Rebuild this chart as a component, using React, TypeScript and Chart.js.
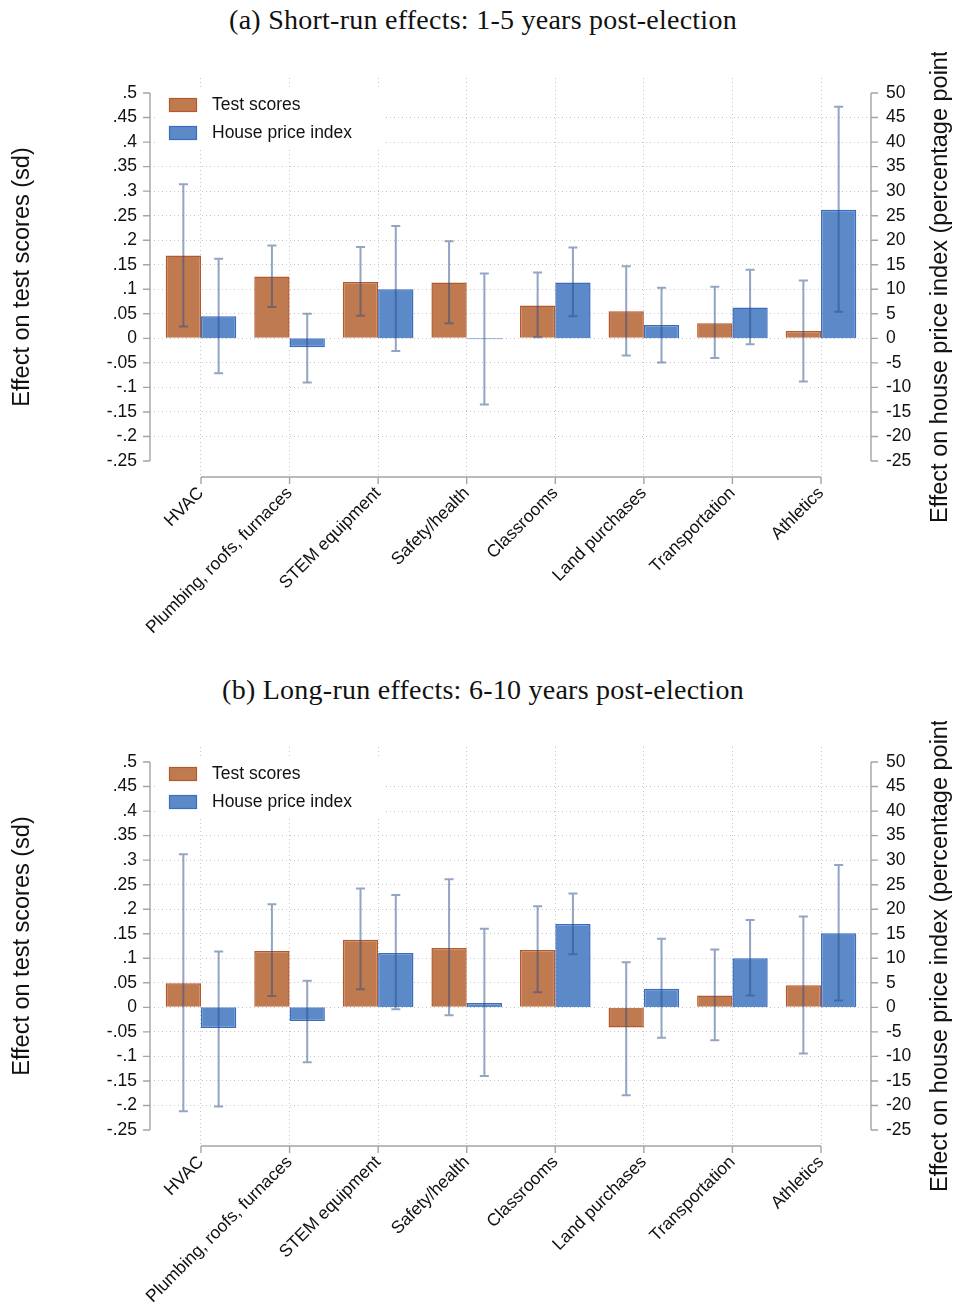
import React, { useEffect, useRef } from 'react';
import { Chart, registerables } from 'chart.js';

Chart.register(...registerables);

// Project categories along the x axis
const CATEGORIES = [
  'HVAC',
  'Plumbing, roofs, furnaces',
  'STEM equipment',
  'Safety/health',
  'Classrooms',
  'Land purchases',
  'Transportation',
  'Athletics',
];

// Panel (a): short-run effects, 1-5 years post-election
const SR_TEST = [0.169, 0.126, 0.115, 0.114, 0.067, 0.055, 0.031, 0.015];
const SR_TEST_LO = [0.024, 0.064, 0.046, 0.031, 0.002, -0.035, -0.04, -0.088];
const SR_TEST_HI = [0.314, 0.189, 0.186, 0.198, 0.134, 0.147, 0.105, 0.118];
const SR_HPI = [4.5, -1.8, 10.0, -0.2, 11.4, 2.7, 6.3, 26.2];
const SR_HPI_LO = [-7.1, -9.0, -2.6, -13.5, 4.5, -4.9, -1.2, 5.4];
const SR_HPI_HI = [16.2, 5.0, 22.9, 13.2, 18.5, 10.3, 14.0, 47.2];

// Panel (b): long-run effects, 6-10 years post-election
const LR_TEST = [0.049, 0.115, 0.138, 0.121, 0.117, -0.041, 0.024, 0.045];
const LR_TEST_LO = [-0.212, 0.023, 0.037, -0.016, 0.031, -0.179, -0.067, -0.094];
const LR_TEST_HI = [0.312, 0.21, 0.242, 0.261, 0.206, 0.092, 0.118, 0.185];
const LR_HPI = [-4.2, -2.8, 11.1, 0.9, 17.0, 3.8, 10.0, 15.1];
const LR_HPI_LO = [-20.2, -11.2, -0.4, -14.0, 10.8, -6.2, 2.4, 1.4];
const LR_HPI_HI = [11.4, 5.4, 22.9, 16.0, 23.2, 14.0, 17.8, 29.0];

// Axis ticks: test scores (sd) on the left, house price index (pp) on the right
const SD_TICKS = [-0.25, -0.2, -0.15, -0.1, -0.05, 0, 0.05, 0.1, 0.15, 0.2, 0.25, 0.3, 0.35, 0.4, 0.45, 0.5];
const SD_TICK_LABELS = ['-.25', '-.2', '-.15', '-.1', '-.05', '0', '.05', '.1', '.15', '.2', '.25', '.3', '.35', '.4', '.45', '.5'];
const PP_TICKS = [-25, -20, -15, -10, -5, 0, 5, 10, 15, 20, 25, 30, 35, 40, 45, 50];
const PP_TICK_LABELS = ['-25', '-20', '-15', '-10', '-5', '0', '5', '10', '15', '20', '25', '30', '35', '40', '45', '50'];

const SERIES_NAMES = ['Test scores', 'House price index'];
const LEFT_TITLE = 'Effect on test scores (sd)';
const RIGHT_TITLE = 'Effect on house price index (percentage points)';

// Styling
const SANS = '"Liberation Sans", Arial, Helvetica, sans-serif';
const SERIF = '"Liberation Serif", "Times New Roman", serif';
const ORANGE_FILL = '#c07a50';
const ORANGE_EDGE = '#b5582c';
const BLUE_FILL = '#5c89c8';
const BLUE_EDGE = '#3a6cc0';
const CI_COLOR = 'rgba(40, 75, 135, 0.5)';
const GRID_COLOR = '#c6c6c6';
const AXIS_COLOR = '#a4a4a4';

const W = 955;
const H = 586;
// Plot-region extents (slightly wider than the tick range)
const SD_MIN = -0.2826;
const SD_MAX = 0.5306;
const X_MIN = -0.5758;
const X_MAX = 7.5645;

type PanelProps = {
  title: string;
  top: number;
  titleTop: number;
  test: number[];
  testLo: number[];
  testHi: number[];
  hpi: number[];
  hpiLo: number[];
  hpiHi: number[];
};

function Panel(props: PanelProps) {
  const ref = useRef<HTMLCanvasElement | null>(null);

  useEffect(() => {
    const canvas = ref.current;
    if (!canvas) return;
    const { test, testLo, testHi, hpi, hpiLo, hpiHi } = props;

    const decorations = {
      id: 'panelDecorations',
      afterDatasetsDraw(chart: any) {
        const ctx = chart.ctx as CanvasRenderingContext2D;
        const ys = chart.scales.y;
        const y2 = chart.scales.y2;

        // confidence intervals
        const ranges = [
          { lo: testLo, hi: testHi, scale: ys },
          { lo: hpiLo, hi: hpiHi, scale: y2 },
        ];
        ctx.save();
        ctx.strokeStyle = CI_COLOR;
        ctx.lineWidth = 2;
        ranges.forEach((r, d) => {
          const meta = chart.getDatasetMeta(d);
          meta.data.forEach((el: any, i: number) => {
            const x = el.x;
            const yl = r.scale.getPixelForValue(r.lo[i]);
            const yh = r.scale.getPixelForValue(r.hi[i]);
            ctx.beginPath();
            ctx.moveTo(x, yl);
            ctx.lineTo(x, yh);
            ctx.moveTo(x - 4.5, yl);
            ctx.lineTo(x + 4.5, yl);
            ctx.moveTo(x - 4.5, yh);
            ctx.lineTo(x + 4.5, yh);
            ctx.stroke();
          });
        });
        ctx.restore();

        // legend
        const area = chart.chartArea;
        const lx = area.left;
        const ly = area.top;
        ctx.save();
        ctx.fillStyle = '#ffffff';
        ctx.fillRect(lx + 5, ly + 10, 228, 62);
        const items = [
          { fill: ORANGE_FILL, edge: ORANGE_EDGE },
          { fill: BLUE_FILL, edge: BLUE_EDGE },
        ];
        ctx.font = `17.5px ${SANS}`;
        ctx.textBaseline = 'middle';
        ctx.textAlign = 'left';
        items.forEach((it, k) => {
          const by = ly + 20 + k * 28;
          ctx.fillStyle = it.fill;
          ctx.fillRect(lx + 19, by, 28, 14);
          ctx.strokeStyle = it.edge;
          ctx.lineWidth = 1.2;
          ctx.strokeRect(lx + 19.5, by + 0.5, 27, 13);
          ctx.fillStyle = '#111111';
          ctx.fillText(SERIES_NAMES[k], lx + 62, by + 7.5);
        });
        ctx.restore();
      },
      afterDraw(chart: any) {
        const ctx = chart.ctx as CanvasRenderingContext2D;
        const xs = chart.scales.x;
        const ys = chart.scales.y;
        const y2 = chart.scales.y2;
        const area = chart.chartArea;
        const yTop = ys.getPixelForValue(SD_TICKS[SD_TICKS.length - 1]);
        const yBot = ys.getPixelForValue(SD_TICKS[0]);

        ctx.save();
        ctx.strokeStyle = AXIS_COLOR;
        ctx.lineWidth = 1.4;
        ctx.beginPath();
        // left axis
        ctx.moveTo(area.left, yTop);
        ctx.lineTo(area.left, yBot);
        SD_TICKS.forEach((v) => {
          const p = ys.getPixelForValue(v);
          ctx.moveTo(area.left, p);
          ctx.lineTo(area.left - 7, p);
        });
        // right axis
        ctx.moveTo(area.right, y2.getPixelForValue(PP_TICKS[PP_TICKS.length - 1]));
        ctx.lineTo(area.right, y2.getPixelForValue(PP_TICKS[0]));
        PP_TICKS.forEach((v) => {
          const p = y2.getPixelForValue(v);
          ctx.moveTo(area.right, p);
          ctx.lineTo(area.right + 7, p);
        });
        // bottom axis
        const x0 = xs.getPixelForValue(0);
        const x1 = xs.getPixelForValue(CATEGORIES.length - 1);
        ctx.moveTo(x0, area.bottom);
        ctx.lineTo(x1, area.bottom);
        CATEGORIES.forEach((_, i) => {
          const p = xs.getPixelForValue(i);
          ctx.moveTo(p, area.bottom);
          ctx.lineTo(p, area.bottom + 7);
        });
        ctx.stroke();

        // axis titles, both reading bottom-to-top
        const yMid = (yTop + yBot) / 2;
        ctx.fillStyle = '#111111';
        ctx.font = `23.5px ${SANS}`;
        ctx.textAlign = 'center';
        ctx.textBaseline = 'middle';
        ctx.save();
        ctx.translate(23, yMid);
        ctx.rotate(-Math.PI / 2);
        ctx.fillText(LEFT_TITLE, 0, 0);
        ctx.restore();
        ctx.save();
        ctx.translate(941, yMid);
        ctx.rotate(-Math.PI / 2);
        ctx.fillText(RIGHT_TITLE, 0, 0);
        ctx.restore();
        ctx.restore();
      },
    };

    const tickFont = { family: SANS, size: 17.5 };

    const chart = new Chart(canvas, {
      type: 'bar',
      data: {
        datasets: [
          {
            label: SERIES_NAMES[0],
            data: test.map((v, i) => ({ x: i, y: v })),
            yAxisID: 'y',
            backgroundColor: ORANGE_FILL,
            borderColor: ORANGE_EDGE,
            borderWidth: 1.5,
            categoryPercentage: 0.797,
            barPercentage: 1,
          },
          {
            label: SERIES_NAMES[1],
            data: hpi.map((v, i) => ({ x: i, y: v })),
            yAxisID: 'y2',
            backgroundColor: BLUE_FILL,
            borderColor: BLUE_EDGE,
            borderWidth: 1.5,
            categoryPercentage: 0.797,
            barPercentage: 1,
          },
        ],
      },
      options: {
        animation: false,
        responsive: false,
        devicePixelRatio: 1,
        events: [],
        layout: { padding: { top: 26, left: 0, right: 0, bottom: 0 } },
        plugins: { legend: { display: false }, tooltip: { enabled: false } },
        scales: {
          x: {
            type: 'linear',
            offset: false,
            min: X_MIN,
            max: X_MAX,
            afterBuildTicks: (s: any) => {
              s.ticks = CATEGORIES.map((_, i) => ({ value: i }));
            },
            afterFit: (s: any) => {
              s.height = 161;
            },
            ticks: {
              autoSkip: false,
              minRotation: 45,
              maxRotation: 45,
              padding: 6,
              color: '#111111',
              font: tickFont,
              callback: (_v: any, i: number) => CATEGORIES[i],
            },
            grid: { offset: false, color: GRID_COLOR, drawTicks: false, lineWidth: 1 },
            border: { display: false, dash: [1, 3] },
          },
          y: {
            type: 'linear',
            position: 'left',
            min: SD_MIN,
            max: SD_MAX,
            afterBuildTicks: (s: any) => {
              s.ticks = SD_TICKS.map((v) => ({ value: v }));
            },
            afterFit: (s: any) => {
              s.width = 150;
            },
            ticks: {
              padding: 13,
              color: '#111111',
              font: tickFont,
              callback: (_v: any, i: number) => SD_TICK_LABELS[i],
            },
            grid: {
              drawTicks: false,
              lineWidth: 1,
              color: (c: any) =>
                c.index === 0 || c.index === SD_TICKS.length - 1 ? 'rgba(0,0,0,0)' : GRID_COLOR,
            },
            border: { display: false, dash: [1, 3] },
          },
          y2: {
            type: 'linear',
            position: 'right',
            min: SD_MIN * 100,
            max: SD_MAX * 100,
            afterBuildTicks: (s: any) => {
              s.ticks = PP_TICKS.map((v) => ({ value: v }));
            },
            afterFit: (s: any) => {
              s.width = 84;
            },
            ticks: {
              padding: 15,
              color: '#111111',
              font: tickFont,
              callback: (_v: any, i: number) => PP_TICK_LABELS[i],
            },
            grid: { display: false, drawTicks: false },
            border: { display: false },
          },
        },
      },
      plugins: [decorations],
    } as any);

    return () => chart.destroy();
  }, []);

  return (
    <>
      <div
        style={{
          position: 'absolute',
          left: 83,
          width: 800,
          top: props.titleTop,
          textAlign: 'center',
          fontFamily: SERIF,
          fontSize: 28,
          letterSpacing: '0.25px',
          lineHeight: '32px',
          color: '#111111',
          whiteSpace: 'nowrap',
        }}
      >
        {props.title}
      </div>
      <canvas
        ref={ref}
        width={W}
        height={H}
        style={{ position: 'absolute', left: 0, top: props.top, width: W, height: H, display: 'block' }}
      />
    </>
  );
}

export default function App() {
  return (
    <div style={{ position: 'absolute', left: 0, top: 0, width: 955, height: 1308, background: '#ffffff', overflow: 'hidden' }}>
      <Panel
        title="(a) Short-run effects: 1-5 years post-election"
        top={52}
        titleTop={4}
        test={SR_TEST}
        testLo={SR_TEST_LO}
        testHi={SR_TEST_HI}
        hpi={SR_HPI}
        hpiLo={SR_HPI_LO}
        hpiHi={SR_HPI_HI}
      />
      <Panel
        title="(b) Long-run effects: 6-10 years post-election"
        top={721}
        titleTop={674}
        test={LR_TEST}
        testLo={LR_TEST_LO}
        testHi={LR_TEST_HI}
        hpi={LR_HPI}
        hpiLo={LR_HPI_LO}
        hpiHi={LR_HPI_HI}
      />
    </div>
  );
}
